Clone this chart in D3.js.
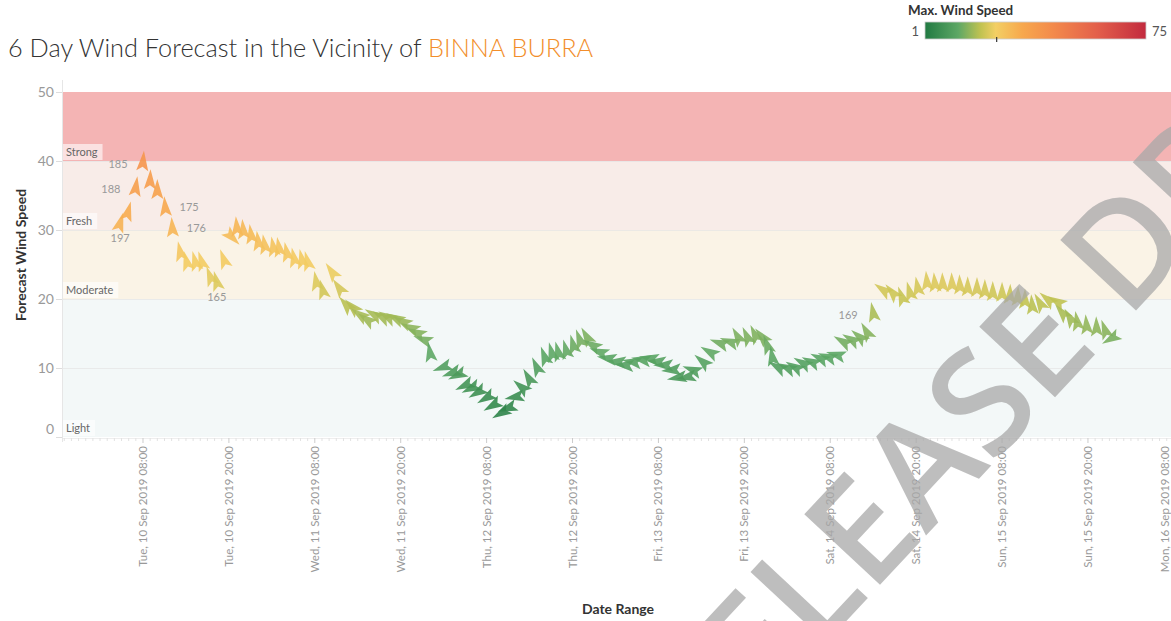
<!DOCTYPE html>
<html><head><meta charset="utf-8">
<script src="https://cdn.jsdelivr.net/npm/d3@7"></script>
<style>
body{margin:0;background:#fff;overflow:hidden}
svg{display:block;font-family:Lato,"Open Sans",sans-serif}
</style>
</head><body>
<svg id="c" width="1171" height="621"></svg>
<script>
// ---------- DATA ----------
// hours since Tue 10 Sep 2019 00:00
const hours = [4.8,5.9,7.0,8.0,9.0,10.0,11.1,12.1,13.2,14.1,15.3,16.2,17.4,18.3,19.3,
 20.4,21.1,22.0,23.1,24.1,25.0,26.2,27.0,28.1,29.1,30.2,31.0,32.2,33.1,34.4,35.4,36.4,37.3,38.3,39.3,40.3,41.4,42.2,43.3,44.3,45.4,46.3,47.2,48.1,
 49.9,51.2,52.0,53.0,53.9,54.8,56.0,56.9,58.1,59.0,60.0,60.9,61.9,63.0,64.1,65.1,66.0,67.1,68.1,69.0,70.0,70.8,71.8,72.9,74.2,75.3,76.4,77.7,78.8,79.8,80.8,81.9,82.7,84.0,84.8,86.2,87.2,
 88.6,90.0,91.1,92.4,93.5,94.5,95.2,95.9,96.7,98.0,99.1,100.2,101.4,102.6,103.7,104.9,105.8,107.0,108.1,109.1,110.0,
 111.4,112.7,114.0,115.1,116.2,117.5,118.6,119.7,121.0,122.1,123.2,124.5,125.6,126.7,128.0,129.1,130.2,131.2,132.2,133.3,134.4,135.7,
 136.4,137.5,138.5,139.8,141.2,142.4,143.3];
const speeds = [31.0,32.6,36.2,39.9,37.2,35.8,33.3,30.3,26.8,25.4,25.4,25.4,23.2,22.5,25.7,
 29.0,30.4,30.0,29.3,28.3,27.8,27.5,27.4,26.7,25.9,25.7,25.4,22.5,21.3,23.9,21.6,19.1,18.8,17.7,17.0,17.7,17.4,17.4,17.2,16.7,15.8,15.1,14.1,12.2,
 10.1,9.3,9.0,7.5,7.1,6.5,5.7,4.6,3.5,4.2,5.8,7.2,8.5,10.1,11.6,12.2,12.3,12.6,13.3,14.1,14.5,13.3,12.3,11.4,10.9,10.4,10.9,11.2,11.4,10.9,10.4,9.7,8.6,8.7,9.7,10.9,12.3,
 13.6,13.8,14.5,14.5,14.8,14.5,13.3,11.6,10.1,10.0,10.1,10.7,10.9,11.4,11.6,11.9,13.8,14.1,14.5,15.2,18.0,
 21.3,20.9,20.3,21.0,21.7,22.5,22.3,22.3,22.3,22.0,21.7,21.6,21.3,21.0,20.9,20.6,20.3,19.9,19.1,19.4,19.9,19.6,
 18.0,17.2,16.7,16.2,15.9,15.5,14.3];
const directions = [197,195,188,185,182,180,175,176,168,165,165,162,160,165,160,
 315,175,175,172,172,170,170,170,168,168,168,165,170,165,145,145,140,135,125,125,120,120,120,118,118,115,115,110,170,
 70,70,65,65,65,60,60,60,60,70,80,130,150,155,160,165,165,165,165,160,150,120,110,100,95,95,100,100,100,95,90,85,80,80,110,130,120,
 110,110,150,155,155,140,160,170,120,115,120,120,115,115,110,105,120,120,130,150,169,
 125,140,160,165,170,175,175,178,178,178,180,180,180,180,180,182,182,180,175,150,130,120,
 140,150,170,175,178,160,60];
// indices of points carrying a direction label, and where the label sits
const labelIndex = [0,2,3,6,7,13,101];
const labelSide  = ["below","left","left","right","right","below","left"];

const bandNames = ["Light","Moderate","Fresh","Strong"];
const bandLow   = [0,20,30,40];
const bandHigh  = [20,30,40,50];
const yTicks = [0,10,20,30,40,50];
const xTickHours = [8,20,32,44,56,68,80,92,104,116,128,140,152];
const legendMin = 1, legendMax = 75, legendMarker = 25;

// ---------- LAYOUT ----------
const svg = d3.select("#c");
const base = new Date(2019,8,10,0,0);
const toDate = h => new Date(base.getTime() + h*3600000);
const L = 63, R = 1171, T = 92, B = 437;
const x = d3.scaleTime().domain([toDate(-3.175), toDate(151.6)]).range([L, R]);
const y = d3.scaleLinear().domain([0,50]).range([B, T]);

const colorStops = ["#217a42","#5da765","#bfc251","#f3cf64","#f7a84d","#f38a4b","#e35f4b","#c22a3e"];
const stopPos = [0,0.15,0.25,0.32,0.44,0.58,0.78,1];
const color = d3.scaleLinear()
  .domain(stopPos.map(p => legendMin + p*(legendMax-legendMin)))
  .range(colorStops).clamp(true);

// title
const title = svg.append("text").attr("x",8).attr("y",57)
  .attr("font-size",25.3).attr("font-weight",300).attr("fill","#333");
title.append("tspan").text("6 Day Wind Forecast in the Vicinity of ");
title.append("tspan").attr("fill","#f28e2b").text("BINNA BURRA");

// legend
svg.append("text").attr("x",908).attr("y",15).attr("font-size",13.4).attr("font-weight",700)
  .attr("fill","#333").text("Max. Wind Speed");
const grad = svg.append("defs").append("linearGradient").attr("id","lg");
stopPos.forEach((p,i)=>grad.append("stop").attr("offset",p).attr("stop-color",colorStops[i]));
const lx = d3.scaleLinear().domain([legendMin,legendMax]).range([925,1146]);
svg.append("rect").attr("x",lx(legendMin)).attr("y",22).attr("width",lx(legendMax)-lx(legendMin))
  .attr("height",17).attr("fill","url(#lg)").attr("stroke","#ccc").attr("stroke-width",0.8);
svg.append("text").attr("x",lx(legendMin)-6).attr("y",36).attr("text-anchor","end")
  .attr("font-size",13).attr("fill","#555").text(legendMin);
svg.append("text").attr("x",lx(legendMax)+6).attr("y",36)
  .attr("font-size",13).attr("fill","#555").text(legendMax);
svg.append("line").attr("x1",lx(legendMarker)).attr("x2",lx(legendMarker)).attr("y1",37).attr("y2",42)
  .attr("stroke","#333").attr("stroke-width",1.2);

// bands
const bandFill = ["#f3f8f8","#faf3e6","#f8ece8","#f4b4b4"];
bandNames.forEach((n,i)=>{
  svg.append("rect").attr("x",L).attr("width",R-L)
    .attr("y",y(bandHigh[i])).attr("height",y(bandLow[i])-y(bandHigh[i])).attr("fill",bandFill[i]);
});
// gridlines
svg.append("g").selectAll("line").data(yTicks.filter(d=>d>0 && d<50)).join("line")
  .attr("x1",L).attr("x2",R).attr("y1",d=>y(d)+0.5).attr("y2",d=>y(d)+0.5)
  .attr("stroke","#e4e4e4").attr("stroke-opacity",0.7);
// band labels
bandNames.forEach((n,i)=>{
  const g = svg.append("g");
  const t = g.append("text").attr("x",L+3).attr("y",y(bandLow[i])-5).attr("font-size",11)
    .attr("fill","#666").text(n);
  const w = t.node().getComputedTextLength();
  g.insert("rect","text").attr("x",L).attr("y",y(bandLow[i])-17).attr("width",w+8).attr("height",16)
    .attr("fill","#fff").attr("fill-opacity",0.6);
});

// y axis
svg.append("line").attr("x1",L-0.5).attr("x2",L-0.5).attr("y1",80).attr("y2",B+5).attr("stroke","#e6e6e6");
const ya = svg.append("g");
yTicks.forEach(t=>{
  ya.append("line").attr("x1",L-7).attr("x2",L-1).attr("y1",y(t)+0.5).attr("y2",y(t)+0.5).attr("stroke","#ddd");
  ya.append("text").attr("x",L-9).attr("y",(t===0? y(t)-8 : y(t))).attr("dy","0.35em")
    .attr("text-anchor","end").attr("font-size",14).attr("fill","#999").text(t);
});
svg.append("text").attr("transform","translate(26,255) rotate(-90)").attr("text-anchor","middle")
  .attr("font-size",14).attr("font-weight",700).attr("fill","#333").text("Forecast Wind Speed");

// x axis
const xa = svg.append("g");
xa.append("line").attr("x1",L).attr("x2",R).attr("y1",B+1.5).attr("y2",B+1.5).attr("stroke","#eee");
d3.range(-3,152).forEach(h=>{
  const major = xTickHours.includes(h);
  xa.append("line").attr("x1",x(toDate(h))).attr("x2",x(toDate(h)))
    .attr("y1",B+1).attr("y2",B+(major?6:4)).attr("stroke",major?"#ccc":"#e2e2e2");
});
const fmt = d3.timeFormat("%a, %d %b %Y %H:%M");
xTickHours.forEach(h=>{
  const px = Math.min(x(toDate(h)), R-6);
  xa.append("text").attr("transform",`translate(${px},446) rotate(-90)`).attr("dy","0.35em")
    .attr("text-anchor","end").attr("font-size",11.5).attr("fill","#999").text(fmt(toDate(h)));
});
svg.append("text").attr("x",618).attr("y",614).attr("text-anchor","middle")
  .attr("font-size",14).attr("font-weight",700).attr("fill","#333").text("Date Range");

// arrows
const arrow = "M0,-11 L6,9 L0,5 L-6,9 Z";
const pts = hours.map((h,i)=>({t:toDate(h), v:speeds[i], d:directions[i]}));
svg.append("g").selectAll("path").data(pts).join("path")
  .attr("d",arrow)
  .attr("transform",p=>`translate(${x(p.t)},${y(p.v)}) rotate(${p.d-180})`)
  .attr("fill",p=>color(p.v)).attr("fill-opacity",0.9);

// direction labels
const off = {left:[-25,2], right:[24,0], below:[0,15]};
labelIndex.forEach((i,k)=>{
  const p = pts[i], o = off[labelSide[k]];
  svg.append("text").attr("x",x(p.t)+o[0]).attr("y",y(p.v)+o[1]).attr("dy","0.35em")
    .attr("text-anchor","middle").attr("font-size",11).attr("fill","#999").text(p.d);
});

// watermark
svg.append("text").attr("transform","translate(962,497) rotate(-47)").attr("text-anchor","middle")
  .attr("font-size",145).attr("font-weight",600).attr("font-family","'Open Sans',sans-serif")
  .attr("fill","#a8a8a8").attr("fill-opacity",0.75).text("PRE-RELEASE DRAFT");
</script>
</body></html>
